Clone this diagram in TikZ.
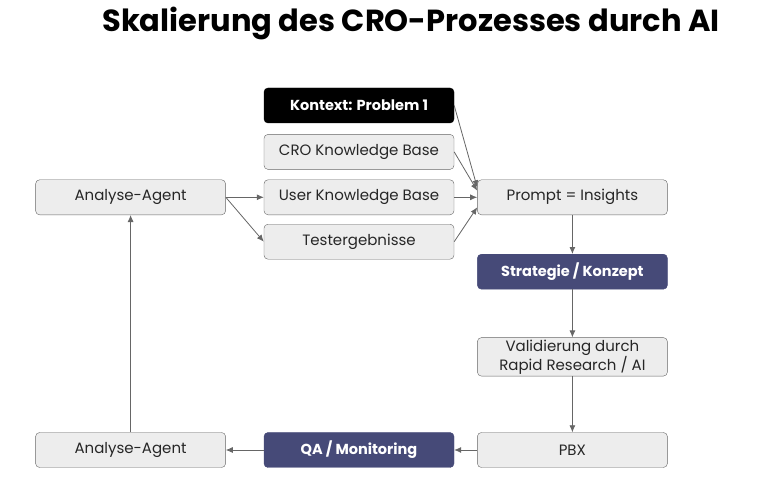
\documentclass[tikz,border=0pt]{standalone}
\usepackage{fontspec}
\setmainfont{Poppins}
\usetikzlibrary{arrows.meta, positioning}
\definecolor{boxgray}{HTML}{EDEDED}
\definecolor{linegray}{HTML}{666666}
\definecolor{navy}{HTML}{464A78}
\tikzset{
    box/.style={draw=linegray, fill=boxgray, rounded corners=4pt, align=center, text=black!85,
        minimum width=190pt, minimum height=35pt, inner sep=2pt, font=\fontsize{15}{17}\selectfont},
    darkbox/.style={box, draw=navy, fill=navy, text=white, font=\fontsize{14.5}{17}\selectfont\bfseries},
    blackbox/.style={box, draw=black, fill=black, text=white, font=\fontsize{14.5}{17}\selectfont\bfseries},
    arrow/.style={-{Latex[length=7pt,width=6pt]}, linegray, line width=0.8pt}
}

\begin{document}
\begin{tikzpicture}[x=1pt, y=-1pt]
        \useasboundingbox (0,0) rectangle (758,500);
        \node [font=\fontsize{30.5}{36}\selectfont\bfseries] (title) at (411,23) {Skalierung des CRO-Prozesses durch AI};
        \node [blackbox] (kontext) at (359,105.5) {Kontext: Problem 1};
        \node [box, below=11pt of kontext] (cro) {CRO Knowledge Base};
        \node [box, below=10pt of cro] (user) {User Knowledge Base};
        \node [box, below=9pt of user] (tests) {Testergebnisse};
        \node [box, left=38pt of user] (agent1) {Analyse-Agent};
        \node [box, right=23pt of user] (prompt) {Prompt = Insights};
        \node [darkbox, below=39pt of prompt] (strat) {Strategie / Konzept};
        \node [box, minimum height=37pt, below=48pt of strat] (valid) {Validierung durch\\Rapid Research / AI};
        \node [box, below=56pt of valid] (pbx) {PBX};
        \node [darkbox, left=23pt of pbx] (qa) {QA / Monitoring};
        \node [box, left=38pt of qa] (agent2) {Analyse-Agent};
        \draw [arrow] (agent1) -- (user);
        \draw [arrow] (agent1.east) -- (tests.west);
        \draw [arrow] (kontext.east) -- (prompt.174);
        \draw [arrow] (cro.east) -- (prompt.176);
        \draw [arrow] (user) -- (prompt);
        \draw [arrow] (tests.east) -- (prompt.186);
        \draw [arrow] (prompt) -- (strat);
        \draw [arrow] (strat) -- (valid);
        \draw [arrow] (valid) -- (pbx);
        \draw [arrow] (pbx) -- (qa);
        \draw [arrow] (qa) -- (agent2);
        \draw [arrow] (agent2) -- (agent1);
    \end{tikzpicture}
\end{document}
